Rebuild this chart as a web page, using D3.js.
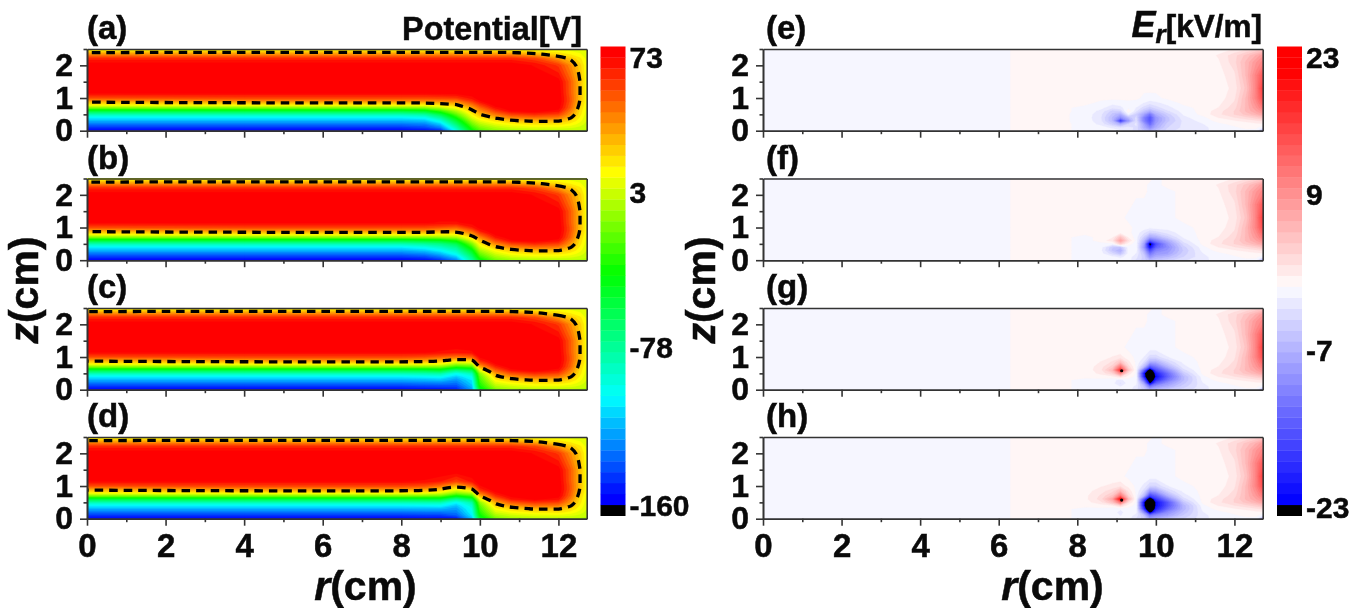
<!DOCTYPE html>
<html><head><meta charset="utf-8">
<script src="https://cdn.jsdelivr.net/npm/d3@7"></script>
<style>html,body{margin:0;padding:0;background:#fff}svg{display:block;filter:blur(.4px)}text{font-family:"Liberation Sans",Arial,sans-serif;font-weight:bold;fill:#0a0a0a;stroke:#0a0a0a;stroke-width:.5px}</style>
</head><body><svg id="c" width="1357" height="608"></svg>
<script>
// ---------- axes ----------
const rMajor=[0,2,4,6,8,10,12], rMinor=[1,3,5,7,9,11];
const zMajor=[0,1,2], zMinor=[0.5,1.5,2.5];
const rMax=12.72, zMax=2.5;
const panelNamesLeft=["(a)","(b)","(c)","(d)"], panelNamesRight=["(e)","(f)","(g)","(h)"];
const potentialLabels=[73,3,-78,-160], erLabels=[23,9,-7,-23];
// ---------- potential [V] field: nodes ----------
const pR=[0,4,8,8.6,9,9.4,9.8,10,10.4,10.8,11.4,12,12.3,12.55,12.73];
const pZ=[0,.1,.2,.3,.4,.5,.6,.7,.8,.9,1,1.15,1.5,2,2.2,2.35,2.5];
const dashedLevel=28;
// rows for z>=1.5, nearly the same in all four panels
const pUpper=[
[80,80,80,80,80,80,80,80,80,80,80,76,52,28,10],
[78,78,78,78,78,78,78,78,78,78,72,60,40,24,9],
[65,65,65,65,65,65,65,65,65,65,58,38,27,18,8],
[36,36,36,36,36,36,36,36,36,36,30,20,15,11,7],
[10,10,10,10,10,10,10,10,10,10,9,8,7,6,5]];
const pA=[
[-158,-158,-158,-155,-150,-100,-42,-25,-12,-6,-3,-2,-2,-2,-2],
[-146,-146,-146,-142,-130,-85,-30,-14,-2,4,8,8,6,3,0],
[-133,-133,-133,-130,-115,-70,-18,-3,8,14,18,18,14,8,2],
[-120,-120,-120,-117,-98,-55,-6,8,18,26,30,29,22,12,4],
[-106,-106,-106,-102,-80,-38,6,18,30,42,47,44,30,15,5],
[-86,-86,-86,-80,-58,-20,15,28,45,58,63,58,38,18,6],
[-56,-56,-56,-50,-30,-4,24,38,58,73,76,70,44,20,7],
[-14,-14,-14,-12,-2,12,34,48,70,78,80,76,50,22,8],
[16,18,18,18,22,28,46,60,78,80,80,78,52,25,9],
[33,37,38,38,40,42,60,72,80,80,80,79,54,27,10],
[55,57,57,57,58,60,70,78,80,80,80,79,54,28,10],
[73,74,74,74,75,76,78,80,80,80,80,78,52,28,10]];
const pB=[
[-158,-158,-158,-155,-148,-130,-80,-45,-18,-8,-4,-3,-3,-3,-3],
[-146,-146,-146,-142,-132,-115,-70,-30,-6,3,8,8,6,3,0],
[-133,-133,-133,-128,-118,-100,-58,-18,4,14,18,18,14,8,2],
[-120,-120,-120,-114,-104,-88,-45,-6,14,25,30,29,22,12,4],
[-106,-106,-106,-100,-90,-76,-30,6,26,40,47,44,30,15,5],
[-86,-86,-86,-80,-74,-60,-14,16,40,56,63,58,38,18,6],
[-56,-56,-56,-52,-48,-36,4,27,55,72,76,70,44,20,7],
[-14,-14,-14,-12,-10,-5,20,40,68,78,80,76,50,22,8],
[16,18,18,18,16,16,36,54,76,80,80,78,52,25,9],
[33,37,38,38,33,32,50,68,80,80,80,79,54,27,10],
[55,57,57,57,54,50,66,76,80,80,80,79,54,28,10],
[73,74,74,74,72,72,76,80,80,80,80,78,52,28,10]];
const pC=[
[-158,-158,-158,-156,-155,-152,-125,-50,-16,-6,-3,-3,-3,-3,-3],
[-146,-146,-146,-144,-143,-142,-118,-38,-4,3,8,8,6,3,0],
[-133,-133,-133,-131,-130,-133,-112,-32,6,13,18,18,14,8,2],
[-120,-120,-120,-118,-116,-125,-108,-26,15,24,30,29,22,12,4],
[-106,-106,-106,-104,-102,-115,-100,-20,24,38,47,44,30,15,5],
[-86,-86,-86,-84,-82,-100,-85,-10,36,54,63,58,38,18,6],
[-56,-56,-56,-54,-50,-72,-60,10,50,70,76,70,44,20,7],
[-14,-14,-14,-14,-14,-32,-25,32,64,78,80,76,50,22,8],
[16,18,18,16,14,-2,2,50,74,80,80,78,52,25,9],
[33,37,38,36,32,22,24,65,80,80,80,79,54,27,10],
[55,57,57,55,50,45,50,74,80,80,80,79,54,28,10],
[73,74,74,74,72,70,72,80,80,80,80,78,52,28,10]];
const pD=[
[-158,-158,-158,-157,-156,-155,-118,-52,-18,-7,-3,-3,-3,-3,-3],
[-146,-146,-146,-145,-145,-138,-108,-40,-6,2,7,8,6,3,0],
[-133,-133,-133,-132,-132,-130,-102,-33,4,12,17,18,14,8,2],
[-120,-120,-120,-119,-119,-124,-99,-27,13,22,29,29,22,12,4],
[-106,-106,-106,-105,-104,-116,-93,-20,22,36,46,44,30,15,5],
[-86,-86,-86,-85,-85,-103,-81,-10,33,52,62,58,38,18,6],
[-56,-56,-56,-55,-54,-78,-58,10,47,68,75,70,44,20,7],
[-14,-14,-14,-15,-18,-40,-26,30,62,76,80,76,50,22,8],
[16,18,18,15,10,-8,2,48,72,80,80,78,52,25,9],
[33,37,38,35,28,12,25,64,79,80,80,79,54,27,10],
[55,57,57,54,46,28,48,72,80,80,80,79,54,28,10],
[73,74,74,72,68,58,70,78,80,80,80,78,52,28,10]];
// ---------- Er [kV/m] field: nodes ----------
const eR=[0,6.1,6.5,7.5,8.2,8.6,8.9,9.1,9.3,9.5,9.7,9.85,10,10.3,10.7,11.2,11.6,12,12.3,12.55,12.73];
const eZ=[0,.1,.2,.3,.4,.5,.6,.7,.85,1,1.3,1.7,2.1,2.3,2.5];
const eLeftCols=[-.3,-.3,.3,.3];
// background above the lobes, z=1.3 to 2.5
const eUpperE=[
[.3,.3,.3,.3,.3,.3,.3,.3,.3,.3,.3],
[.3,.3,.3,.3,.3,.3,.3,.3,.3,.3,.3],
[.3,.3,.3,.3,.3,.3,.3,.3,.3,.3,.3],
[.3,.3,.3,.3,.3,.3,.3,.3,.3,.3,.3],
[.3,.3,.3,.3,.3,.3,.3,.3,.3,.3,.3]];
const eUpperOther=[
[.3,.3,.3,.3,-.3,-.3,-.3,-.3,-.3,-.3,.3],
[.3,.3,.3,.3,.3,-.3,-.3,-.3,-.3,-.3,.3],
[.3,.3,.3,.3,.3,.3,.3,-.3,-.3,-.3,.3],
[.3,.3,.3,.3,.3,.3,.3,-.3,-.3,.3,.3],
[.3,.3,.3,.3,.3,.3,.3,.3,-.3,.3,.3]];
const eRight=[
[-1.5,-.6,-.3,-.3,-.5,-8],
[-1.5,-.5,-.2,.3,.3,-1],
[-1.2,-.3,.3,.5,.8,1],
[-.7,.4,1,1.5,2,2.5],
[-.4,1.2,2.2,3,4,5],
[.4,2,3.5,5,6.5,8],
[.4,1.8,3.5,6,8,10],
[.4,1.2,3,6,9,12],
[.3,.8,2.5,6,10,14],
[.3,.5,2,6,11,16],
[.3,.5,1.5,5,11,17.5],
[.3,.6,2,6,11,15],
[.4,1,3,6,9,11],
[.4,1.3,3,5,7,9],
[.3,.5,1.2,2,3,4]];
const eE=[
[-.3,-.4,-.5,-1,-1.5,-3,-5,-7,-5,-3,-1.5],
[-.3,-.7,-1.5,-2.5,-2,-2.5,-7,-10,-7,-3.5,-2],
[-.3,-1.5,-4,-7,-3.5,-2,-8,-13,-8,-4,-2],
[-.4,-2,-6,-18,-9,-2.5,-11,-15,-9,-5,-2],
[-.4,-2.2,-6,-10,-6,-3,-11,-15,-9,-5,-1.5],
[-.4,-2,-5,-7,-1,-4,-8,-12,-7,-4,-1],
[-.3,-1.5,-4,-3.5,1,-2,-5,-7,-5,-2.5,-.6],
[-.3,-.8,-2,-1.5,-.4,-1.2,-3,-4,-3,-1.5,-.4],
[.3,-.3,-.7,-.6,-.3,-.6,-1.2,-1.8,-1.4,-.8,.3],
[.3,.3,.3,.3,.3,.3,-.3,-.4,-.3,.3,.3]];
const eF=[
[-.3,-.3,-.3,-.5,-.5,-2.5,-4,-6,-5,-4,-2.5],
[-.3,-.4,-.8,-1.5,-.5,-2,-4,-9,-7,-6,-3.5],
[-.3,-.6,-3,-5,-.6,-1.2,-5,-12,-9,-8,-4],
[-.3,-.8,-5,-7,-.6,-.5,-7,-16,-11,-9,-4.5],
[-.3,-.6,-4.5,-5,-.5,-.5,-9,-22,-14,-10,-4],
[-.3,-.3,-.5,4,.5,-.5,-8,-26,-16,-9,-3],
[-.3,.3,2,8,2.5,-.5,-6,-14,-11,-7,-1.8],
[-.3,.3,1,5,1,-.6,-4,-8,-7,-4,-1],
[.3,.3,.3,.3,.3,-.5,-2,-3.5,-3,-1.8,-.5],
[.3,.3,.3,.3,.3,-.3,-.5,-.8,-.6,-.6,-.3]];
const eG=[
[-.3,-.3,-.3,-.5,-.5,-2,-4,-7,-6,-4.5,-3],
[-.3,-.3,-.5,-1.2,-.5,-1.5,-5,-12,-9,-7,-4],
[-.3,-.3,-.7,-2.5,-.5,-.8,-8,-24,-14,-9,-5],
[-.3,-.3,-.8,-1.5,-.4,-.4,-14,-30,-19,-12,-6],
[.3,.4,.8,2.5,.5,-.3,-20,-34,-22,-14,-6],
[.3,1.5,3.5,10,2,-.3,-21,-34,-20,-13,-4.5],
[.3,2,6,19,5,-.3,-14,-28,-16,-10,-2.8],
[.3,1.8,4,12,3,-.3,-6,-15,-12,-6.5,-1.6],
[.3,1.2,2.5,5,1.5,-.3,-2.5,-7,-7,-3.5,-.8],
[.3,.5,1.2,1.5,.5,-.3,-1.2,-3,-3,-1.2,-.3]];
const eH=[
[-.3,-.3,-.3,-.6,-.6,-2.5,-4,-8,-7,-5,-3.5],
[-.3,-.3,-.5,-1.2,-.6,-1.6,-5,-12,-10,-8,-4.5],
[-.3,-.3,-.7,-1.5,-.5,-.8,-10,-26,-16,-10,-5.5],
[-.3,-.3,-.8,-1,-.4,-.4,-18,-36,-20,-13,-6.5],
[.3,.5,1,3,.5,-.4,-22,-38,-22,-15,-6.5],
[.6,2,5,12,2.5,-.3,-22,-38,-22,-15,-5],
[.8,2.8,8,22,6,-.3,-15,-30,-18,-11,-3],
[.8,2.5,5,12,3.5,-.3,-6,-17,-14,-7,-1.8],
[.6,1.8,3,6,2,-.3,-3,-9,-8,-3.5,-.8],
[.5,1,1.5,1.8,.8,-.3,-1.5,-3.5,-3.5,-1.2,-.3]];
// singular points in the red lobe of panels g and h: [panel, r, z]
const erSpots=[[2,9.13,.58],[3,9.13,.57]];
// ---------- colour levels ----------
const pLevels=d3.range(42).map(k=>-160+5.68*k);
const eLevels=d3.range(42).map(k=>1.15*(k-20));
const pStops=[-156,-104,-39.5,13,73], pColors=["#0000ff","#00ffff","#00ff00","#ffff00","#ff0000"];
const eStops=[-23,0,23], eColors=["#0000ff","#ffffff","#ff0000"];
const pColor=d3.scaleLinear().domain(pStops).range(pColors).clamp(true);
const eColor=d3.scaleLinear().domain(eStops).range(eColors).clamp(true);
// colour of each band: black below the first level, then one per interval
const pBand=[ "#000000",...pLevels.map(l=>pColor(l+2.84))];
const eBand=[ "#000000",...eLevels.map(l=>eColor(l<0?l+.3:l+.85))];
// ---------- layout ----------
const tops=[49,178.5,308,437], height=81.7;
const leftX=[87,586.7], rightX=[763,1262.7];
const svg=d3.select("#c");
const defs=svg.append("defs");
let clipId=0;
function field(g,rNodes,zNodes,rows,levels,bands,x,y){
  const n=rNodes.length,m=zNodes.length,vals=rows.flat();
  const ri=d3.scaleLinear().domain(rNodes.map((_,i)=>i+.5)).range(rNodes);
  const zi=d3.scaleLinear().domain(zNodes.map((_,i)=>i+.5)).range(zNodes);
  const path=d3.geoPath(d3.geoTransform({point(a,b){this.stream.point(x(ri(a)),y(zi(b)));}}));
  const id="cl"+(clipId++);
  defs.append("clipPath").attr("id",id).append("rect").attr("x",x.range()[0]).attr("y",y.range()[1]).attr("width",x.range()[1]-x.range()[0]).attr("height",y.range()[0]-y.range()[1]);
  const f=g.append("g").attr("clip-path",`url(#${id})`);
  f.append("rect").attr("x",x.range()[0]).attr("y",y.range()[1]).attr("width",x.range()[1]-x.range()[0]).attr("height",y.range()[0]-y.range()[1]).attr("fill",bands[0]);
  const gen=d3.contours().size([n,m]).smooth(true);
  f.selectAll("path.b").data(gen.thresholds(levels)(vals)).join("path").attr("class","b")
    .attr("d",path).attr("fill",(d,i)=>bands[i+1]).attr("stroke",(d,i)=>bands[i+1]).attr("stroke-width",.3);
  return {f,gen,vals,ri,zi};
}
function axes(g,x,y,showX){
  const st=s=>s.call(a=>a.select(".domain").attr("stroke","#333").attr("stroke-width",1.6))
    .call(a=>a.selectAll("line").attr("stroke","#333").attr("stroke-width",1.6));
  const by=y.range()[0],ty=y.range()[1],lx=x.range()[0],rx=x.range()[1];
  const xMaj=g.append("g").attr("transform",`translate(0,${by})`)
    .call(d3.axisBottom(x).tickValues(rMajor).tickSize(7).tickSizeOuter(0).tickPadding(7.5).tickFormat(showX?d3.format("d"):""));
  st(xMaj);xMaj.selectAll("text").attr("font-size",33).attr("fill","#0a0a0a");
  st(g.append("g").attr("transform",`translate(0,${by})`).call(d3.axisBottom(x).tickValues(rMinor).tickSize(3.5).tickSizeOuter(0).tickFormat("")));
  const yMaj=g.append("g").attr("transform",`translate(${lx},0)`)
    .call(d3.axisLeft(y).tickValues(zMajor).tickSize(7).tickSizeOuter(0).tickPadding(7).tickFormat(d3.format("d")));
  st(yMaj);yMaj.selectAll("text").attr("font-size",32).attr("fill","#0a0a0a");
  st(g.append("g").attr("transform",`translate(${lx},0)`).call(d3.axisLeft(y).tickValues(zMinor).tickSize(3.5).tickSizeOuter(0).tickFormat("")));
  st(g.append("g").attr("transform",`translate(0,${ty})`).call(d3.axisTop(x).tickValues([]).tickSizeOuter(0)));
  st(g.append("g").attr("transform",`translate(${rx},0)`).call(d3.axisRight(y).tickValues([]).tickSizeOuter(0)));
}
const dashLine=d3.line().curve(d3.curveBasisClosed);
// left column
[pA,pB,pC,pD].forEach((lower,i)=>{
  const x=d3.scaleLinear().domain([0,rMax]).range(leftX);
  const y=d3.scaleLinear().domain([0,zMax]).range([tops[i]+height,tops[i]]);
  const g=svg.append("g");
  const rows=[...lower,...pUpper];
  const {f,gen,vals,ri,zi}=field(g,pR,pZ,rows,pLevels,pBand,x,y);
  const c=gen.contour(vals,dashedLevel);
  c.coordinates.forEach(poly=>poly.forEach(ring=>{
    const pts=ring.slice(0,-1).map(p=>[x(ri(p[0])),y(zi(p[1]))]);
    f.append("path").attr("d",dashLine(pts)).attr("fill","none").attr("stroke","#000").attr("stroke-width",3.3).attr("stroke-dasharray","8.5 6");
  }));
  axes(g,x,y,i===3);
  g.append("text").text(panelNamesLeft[i]).attr("x",87).attr("y",tops[i]-10).attr("font-size",33);
});
// right column
[eE,eF,eG,eH].forEach((mid,i)=>{
  const x=d3.scaleLinear().domain([0,rMax]).range(rightX);
  const y=d3.scaleLinear().domain([0,zMax]).range([tops[i]+height,tops[i]]);
  const g=svg.append("g");
  const upper=i===0?eUpperE:eUpperOther;
  const rows=eZ.map((z,j)=>[...eLeftCols,...(j<mid.length?mid[j]:upper[j-mid.length]),...eRight[j]]);
  const {f}=field(g,eR,eZ,rows,eLevels,eBand,x,y);
  f.selectAll("circle").data(erSpots.filter(s=>s[0]===i)).join("circle").attr("cx",d=>x(d[1])).attr("cy",d=>y(d[2])).attr("r",1.6).attr("fill","#000");
  axes(g,x,y,i===3);
  g.append("text").text(panelNamesRight[i]).attr("x",766).attr("y",tops[i]-10).attr("font-size",33);
});
// colour bars
function colorbar(x0,bands,labels,domain,range){
  const b=d3.scaleBand().domain(d3.range(bands.length)).range([515.7,46.5]);
  svg.append("g").selectAll("rect").data(bands).join("rect")
    .attr("x",x0).attr("width",25).attr("y",(d,i)=>b(i)).attr("height",b.bandwidth()+.3).attr("fill",d=>d);
  const y=d3.scaleLinear().domain(domain).range(range);
  svg.append("g").selectAll("text").data(labels).join("text").text(d=>d)
    .attr("x",x0+29).attr("y",d=>y(d)).attr("dy",".36em").attr("font-size",30);
}
colorbar(600.5,pBand,potentialLabels,[-160,73],[505,57.5]);
colorbar(1277,eBand,erLabels,[-23,23],[507,57.5]);
// titles
svg.append("text").text("Potential[V]").attr("x",582).attr("y",40).attr("text-anchor","end").attr("font-size",32.4);
const er=svg.append("text").attr("x",1131.5).attr("y",37);
er.append("tspan").text("E").attr("font-style","italic").attr("font-size",36);
er.append("tspan").text("r").attr("font-style","italic").attr("font-size",26).attr("dy",6);
er.append("tspan").text("[kV/m]").attr("font-size",31.5).attr("dy",-6);
function axisTitle(letter,x,y,rot){
  const t=svg.append("text").attr("font-size",41).attr("text-anchor","middle")
    .attr("transform",`translate(${x},${y})${rot?" rotate(-90)":""}`);
  t.append("tspan").text(letter).attr("font-style","italic");
  t.append("tspan").text("(cm)");
}
axisTitle("r",365.5,600,false);axisTitle("r",1052.5,600,false);
axisTitle("z",38,290,true);axisTitle("z",715,290,true);
</script></body></html>
